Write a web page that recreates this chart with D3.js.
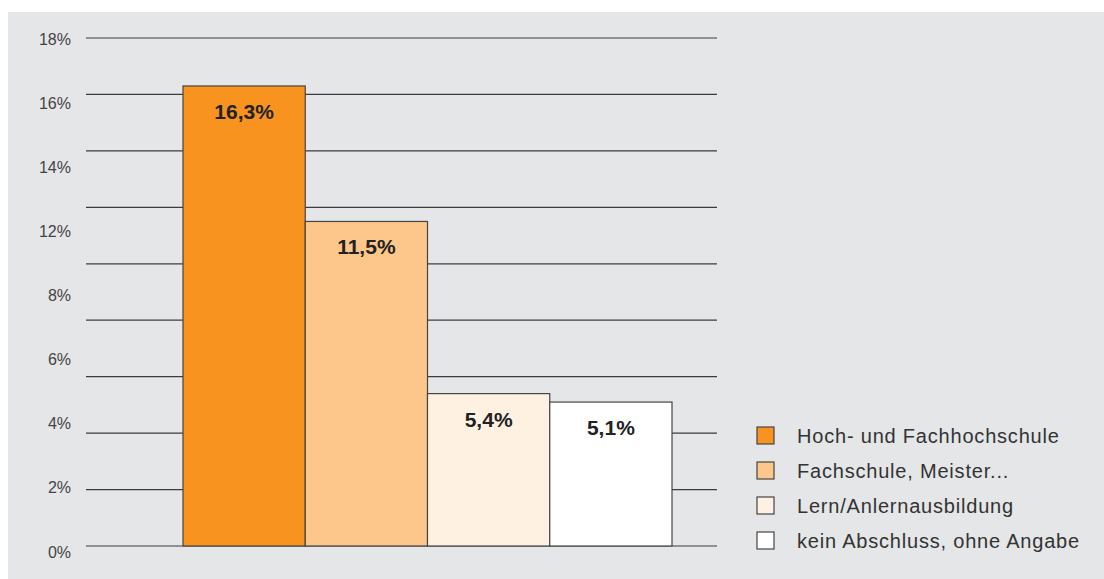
<!DOCTYPE html>
<html>
<head>
<meta charset="utf-8">
<script src="https://cdn.jsdelivr.net/npm/d3@7/dist/d3.min.js"></script>
<style>
  html, body { margin: 0; padding: 0; background: #ffffff; }
  svg { display: block; font-family: "Liberation Sans", Arial, Helvetica, sans-serif; }
</style>
</head>
<body>
<svg id="chart" width="1104" height="579"></svg>
<script>
// Bildungsabschluss – Anteile in Prozent
const categories = ["Hoch- und Fachhochschule", "Fachschule, Meister...", "Lern/Anlernausbildung", "kein Abschluss, ohne Angabe"];
const values = [16.3, 11.5, 5.4, 5.1];
const valueLabels = ["16,3%", "11,5%", "5,4%", "5,1%"];
const colors = ["#f7931e", "#fdc68a", "#fef1e2", "#ffffff"];
const gridValues = [0, 2, 4, 6, 8, 10, 12, 14, 16, 18];
const tickLabels = ["18%", "16%", "14%", "12%", "8%", "6%", "4%", "2%", "0%"];

const svg = d3.select("#chart");

// grey panel
svg.append("rect")
  .attr("x", 8).attr("y", 12)
  .attr("width", 1096).attr("height", 567)
  .attr("fill", "#e5e6e8");

const y = d3.scaleLinear().domain([0, 18]).range([546, 38]);
const x = d3.scaleBand().domain(categories).range([183, 672]).paddingInner(0).paddingOuter(0);

// horizontal grid lines
svg.append("g")
  .selectAll("line")
  .data(gridValues)
  .join("line")
  .attr("x1", 86).attr("x2", 717)
  .attr("y1", d => y(d)).attr("y2", d => y(d))
  .attr("stroke", "#3c3c3c")
  .attr("stroke-width", 1.2);

// axis labels, evenly spread down the left edge
const labelY = d3.scalePoint().domain(tickLabels).range([39, 552]);
svg.append("g")
  .selectAll("text")
  .data(tickLabels)
  .join("text")
  .attr("x", 71)
  .attr("y", d => labelY(d))
  .attr("dy", "0.35em")
  .attr("text-anchor", "end")
  .attr("font-size", 16)
  .attr("fill", "#444")
  .text(d => d);

// bars
svg.append("g")
  .selectAll("rect")
  .data(categories)
  .join("rect")
  .attr("x", d => x(d))
  .attr("y", (d, i) => y(values[i]))
  .attr("width", x.bandwidth())
  .attr("height", (d, i) => y(0) - y(values[i]))
  .attr("fill", (d, i) => colors[i])
  .attr("stroke", "#454545")
  .attr("stroke-width", 1.2);

// value labels inside the bars
svg.append("g")
  .selectAll("text")
  .data(categories)
  .join("text")
  .attr("x", d => x(d) + x.bandwidth() / 2)
  .attr("y", (d, i) => y(values[i]) + 33)
  .attr("text-anchor", "middle")
  .attr("font-size", 21)
  .attr("font-weight", "bold")
  .attr("fill", "#222")
  .text((d, i) => valueLabels[i]);

// legend
const legend = svg.append("g")
  .selectAll("g")
  .data(categories)
  .join("g")
  .attr("transform", (d, i) => `translate(757, ${427 + i * 35})`);

legend.append("rect")
  .attr("width", 17).attr("height", 17)
  .attr("fill", (d, i) => colors[i])
  .attr("stroke", "#454545")
  .attr("stroke-width", 1.2);

legend.append("text")
  .attr("x", 40)
  .attr("y", 9)
  .attr("dy", "0.35em")
  .attr("font-size", 20)
  .attr("letter-spacing", 0.8)
  .attr("fill", "#333")
  .text(d => d);
</script>
</body>
</html>
